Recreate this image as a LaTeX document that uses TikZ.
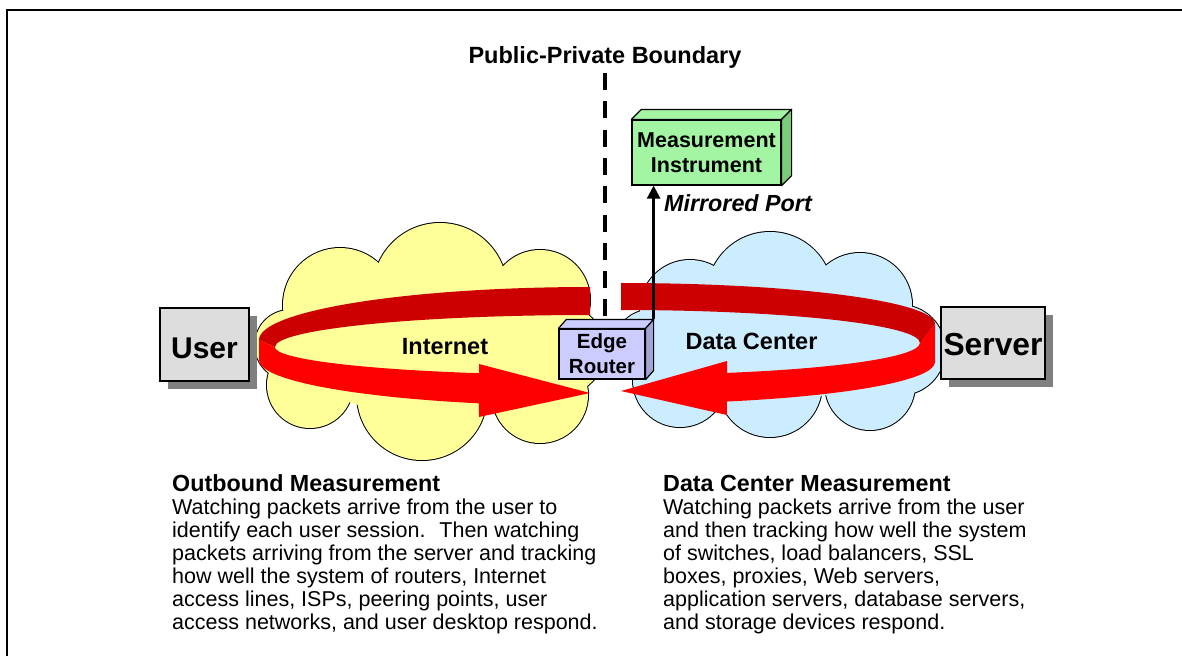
\documentclass[tikz,border=0pt]{standalone}
\usepackage{fontspec}
\setmainfont{Liberation Sans}
\usetikzlibrary{arrows.meta,shadows}

\definecolor{inetfill}{HTML}{FFFF99}
\definecolor{dcfill}{HTML}{CCECFF}
\definecolor{boxgray}{HTML}{DDDDDD}
\definecolor{shadowgray}{HTML}{808080}
\definecolor{routerfront}{HTML}{CCCCFF}
\definecolor{routerside}{HTML}{A3A3D6}
\definecolor{instfront}{HTML}{A3F5A3}
\definecolor{instside}{HTML}{7ACC7A}
\definecolor{backred}{HTML}{CC0000}
\definecolor{frontred}{HTML}{FF0000}

% a cloud made of overlapping puffs: outline first, then fill over it,
% then a filler ellipse closing the gaps in the middle
\newcommand{\puffcloud}[3]{%
  \foreach \cx/\cy/\cr in {#2}{\draw[line width=2pt] (\cx,\cy) circle[radius=\cr];}%
  \foreach \cx/\cy/\cr in {#2}{\fill[#1] (\cx,\cy) circle[radius=\cr];}%
  \fill[#1] #3;%
}

\tikzset{
  flatbox/.style={draw, line width=1.2pt, fill=boxgray, inner sep=0pt,
    drop shadow={shadow xshift=8pt, shadow yshift=-8pt, fill=shadowgray, opacity=1},
    text depth=0pt},
  frontface/.style={draw, line width=1.2pt, inner sep=0pt, align=center},
  faceedge/.style={draw, line width=1.2pt, line join=round},
  cloudlabel/.style={inner sep=0pt, font=\bfseries\fontsize{23.5}{25}\selectfont},
  heading/.style={inner sep=0pt, anchor=base west, font=\bfseries\fontsize{23.3}{25}\selectfont},
  bodytext/.style={inner sep=0pt, anchor=north west, align=left,
    font=\fontsize{21.5}{23}\selectfont},
  boundary/.style={line width=4pt, dash pattern=on 17pt off 11.3pt},
  mirror/.style={line width=2.5pt, -{Triangle[length=13pt,width=13pt]}}
}

\begin{document}
\begin{tikzpicture}[x=1pt,y=-1pt]
\useasboundingbox (0,0) rectangle (1182,656);

% frame
\draw[line width=2.5pt] (7,656) -- (7,10) -- (1182,10);

% clouds
\puffcloud{inetfill}{340/305/57, 440/290/67, 540/300/50, 560/350/45,
  540/395/48, 422/395/65, 310/385/43, 290/345/35}
  {(430,345) ellipse[x radius=140, y radius=70]}
\puffcloud{dcfill}{770/295/63, 690/310/50, 860/305/52, 900/350/45,
  870/385/45, 770/385/52, 680/380/47, 650/345/35}
  {(775,345) ellipse[x radius=125, y radius=55]}

% back halves of the two loops
\fill[backred] (590,287) arc[start angle=270,end angle=180,x radius=331,y radius=53]
  -- (275,347) arc[start angle=180,end angle=270,x radius=315,y radius=32] -- cycle;
\fill[backred] (621,283) arc[start angle=270,end angle=360,x radius=314,y radius=41]
  -- (920,343) arc[start angle=0,end angle=-90,x radius=299,y radius=33] -- cycle;

% public-private boundary
\node[inner sep=0pt, anchor=base, font=\bfseries\fontsize{23.5}{25}\selectfont]
  (title) at (605,63.3) {Public-Private Boundary};
\coordinate (bndtop) at (604.7,73);
\coordinate (bndbot) at (604.7,318);
\draw[boundary] (bndtop) -- (bndbot);

% front halves of the loops, ending in arrow heads
\fill[frontred] (259,340) -- (259,360)
  arc[start angle=180,end angle=109.6,x radius=331,y radius=46]
  -- (479,417) -- (590,393) -- (479,364) -- (479,373.2)
  arc[start angle=110.6,end angle=180,x radius=315,y radius=28] -- cycle;
\fill[frontred] (935,324) -- (935,362)
  arc[start angle=0,end angle=70.3,x radius=314,y radius=42]
  -- (727,415) -- (621,391) -- (727,361) -- (727,372.9)
  arc[start angle=69.2,end angle=0,x radius=299,y radius=32] -- cycle;

% edge router
\node[frontface, fill=routerfront, minimum width=86pt, minimum height=50pt,
  font=\bfseries\fontsize{20.5}{25}\selectfont] (router) at (602,354) {Edge\\Router};
\path[faceedge, fill=routerfront] (router.north west) -- ++(8,-9)
  -- ([shift={(8,-9)}]router.north east) -- (router.north east) -- cycle;
\path[faceedge, fill=routerside] (router.north east) -- ++(8,-9)
  -- ([shift={(8,-9)}]router.south east) -- (router.south east) -- cycle;

% measurement instrument
\node[frontface, fill=instfront, minimum width=149pt, minimum height=65pt,
  font=\bfseries\fontsize{21.5}{25}\selectfont] (instr) at (706.5,152.5) {Measurement\\Instrument};
\path[faceedge, fill=instfront] (instr.north west) -- ++(10,-10)
  -- ([shift={(10,-10)}]instr.north east) -- (instr.north east) -- cycle;
\path[faceedge, fill=instside] (instr.north east) -- ++(10,-10)
  -- ([shift={(10,-10)}]instr.south east) -- (instr.south east) -- cycle;

% mirrored port link
\coordinate (rtop) at ([shift={(8,-9)}]router.north east);
\draw[mirror] (rtop) -- (rtop |- instr.south);
\node[inner sep=0pt, anchor=base west, font=\bfseries\itshape\fontsize{23.3}{25}\selectfont]
  (mport) at (664,211.7) {Mirrored Port};

% end points
\node[flatbox, minimum width=89pt, minimum height=73pt, text height=27pt,
  font=\bfseries\fontsize{30}{30}\selectfont] (user) at (204.5,344.5) {User};
\node[flatbox, minimum width=104pt, minimum height=72pt, text height=24pt,
  font=\bfseries\fontsize{31.8}{32}\selectfont] (server) at (993,343) {Server};

% cloud labels
\node[cloudlabel] (inet) at (445,346.5) {Internet};
\node[cloudlabel] (dc) at (751.5,341.5) {Data Center};

% descriptions
\node[heading] (outhead) at (172,491.7) {Outbound Measurement};
\node[bodytext] (outbody) at (172,499) {Watching packets arrive from the user to\\
identify each user session.~ Then watching\\
packets arriving from the server and tracking\\
how well the system of routers, Internet\\
access lines, ISPs, peering points, user\\
access networks, and user desktop respond.};

\node[heading] (dchead) at (663,491.7) {Data Center Measurement};
\node[bodytext] (dcbody) at (663,499) {Watching packets arrive from the user\\
and then tracking how well the system\\
of switches, load balancers, SSL\\
boxes, proxies, Web servers,\\
application servers, database servers,\\
and storage devices respond.};
\end{tikzpicture}
\end{document}
